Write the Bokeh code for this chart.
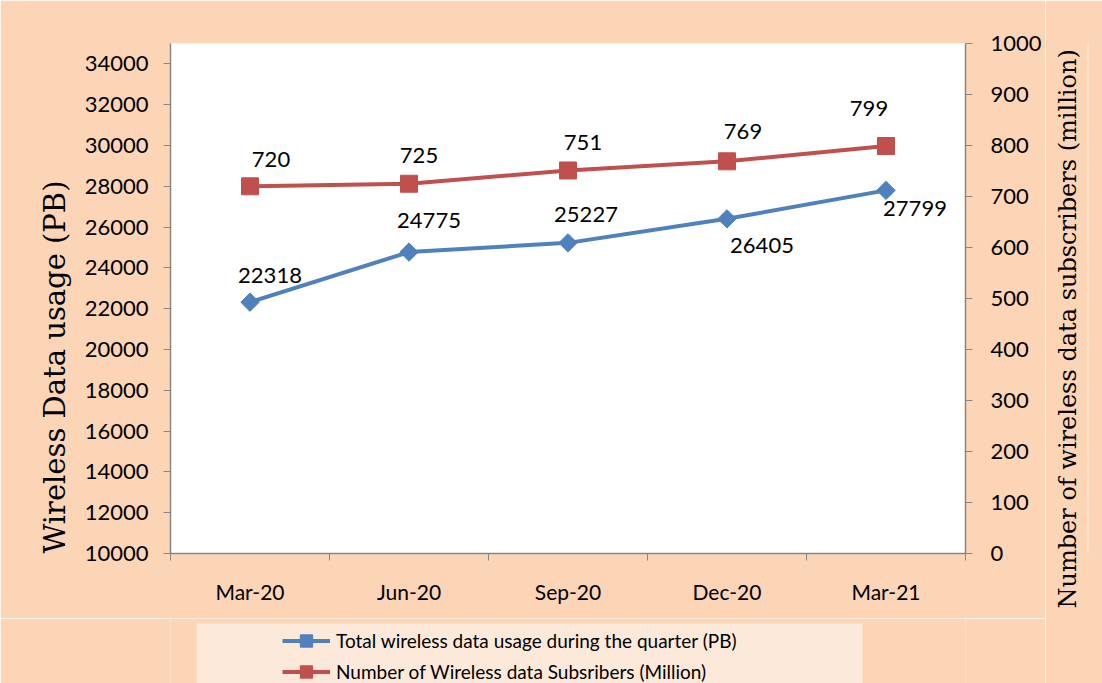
from bokeh.plotting import figure
from bokeh.layouts import column, row
from bokeh.models import (Range1d, LinearAxis, FixedTicker, SingleIntervalTicker,
                          NumeralTickFormatter, ColumnDataSource, Legend, LegendItem,
                          Title)
from bokeh.core.properties import value
from bokeh.embed import file_html
from bokeh.resources import INLINE
import numpy as np

# ---- data ----
categories = ["Mar-20", "Jun-20", "Sep-20", "Dec-20", "Mar-21"]
usage_pb = [22318, 24775, 25227, 26405, 27799]
subscribers_mn = [720, 725, 751, 769, 799]
usage_name = "Total wireless data usage during the quarter (PB)"
subs_name = "Number of Wireless data Subsribers (Million)"
left_title = "Wireless Data usage (PB)"
right_title = "Number of wireless data subscribers (million)"

# label offsets (styling, screen px)
usage_dx = [20, 20, 18, 35, 29]
usage_dy = [-27, -32, -28, 27, 18]
subs_dx = [21, 10, 15, 16, -17]
subs_dy = [-27, -28, -28, -30, -38]

BLUE = "#4F81BD"
RED = "#C0504D"
PEACH = "#FBD5B5"
LEGEND_BG = "#FDE9D9"
AXIS = "#868686"
FONT = "Lato"
SERIF = "DejaVu Serif"

W_MAIN = 1045
W_SIDE = 1102 - W_MAIN
H_TOTAL = 683
H_MAIN = 618
H_LEG = H_TOTAL - H_MAIN
B_LEFT, B_TOP, FRAME_BOTTOM = 170, 43, 553
B_RIGHT = W_MAIN - 965

xpos = [i + 0.5 for i in range(len(categories))]

p = figure(width=W_MAIN, height=H_MAIN, output_backend="svg", toolbar_location=None,
           x_range=Range1d(0, len(categories)), y_range=Range1d(10000, 35000),
           min_border_left=B_LEFT, min_border_right=B_RIGHT, min_border_top=B_TOP,
           min_border_bottom=H_MAIN - FRAME_BOTTOM)
p.border_fill_color = PEACH
p.background_fill_color = "white"
p.outline_line_color = None
p.xgrid.visible = False
p.ygrid.visible = False
p.extra_y_ranges = {"subs": Range1d(0, 1000)}

# x axis
xa = p.xaxis[0]
xa.ticker = FixedTicker(ticks=xpos, minor_ticks=list(range(len(categories) + 1)))
xa.major_label_overrides = {x: c for x, c in zip(xpos, categories)}
xa.major_tick_line_color = None
xa.major_tick_out = 0
xa.major_tick_in = 0
xa.minor_tick_out = 7
xa.minor_tick_in = 0
xa.minor_tick_line_color = AXIS
xa.axis_line_color = AXIS
xa.axis_line_width = 1.5
xa.major_label_standoff = 18
xa.major_label_text_font = FONT
xa.major_label_text_font_size = "21px"
xa.major_label_text_color = "black"

# left axis
ya = p.yaxis[0]
ya.ticker = SingleIntervalTicker(interval=2000)
ya.formatter = NumeralTickFormatter(format="0")
ya.minor_tick_line_color = None
ya.major_tick_out = 7
ya.major_tick_in = 0
ya.major_tick_line_color = AXIS
ya.axis_line_color = AXIS
ya.axis_line_width = 1.5
ya.major_label_standoff = 15
ya.major_label_text_font = FONT
ya.major_label_text_font_size = "22px"
ya.major_label_text_color = "black"

# right axis
ra = LinearAxis(y_range_name="subs", ticker=SingleIntervalTicker(interval=100))
ra.minor_tick_line_color = None
ra.major_tick_out = 7
ra.major_tick_in = 0
ra.major_tick_line_color = AXIS
ra.axis_line_color = AXIS
ra.axis_line_width = 1.5
ra.major_label_standoff = 18
ra.major_label_text_font = FONT
ra.major_label_text_font_size = "22px"
ra.major_label_text_color = "black"
p.add_layout(ra, "right")

# left title, starting at the bottom of the plot area
p.add_layout(Title(text=left_title, align="left", text_font=SERIF,
                   text_font_size="29px", text_font_style="normal",
                   text_color="black", standoff=19), "left")

# series
src_u = ColumnDataSource(dict(x=xpos, y=usage_pb, t=[str(v) for v in usage_pb],
                              dx=usage_dx, dy=usage_dy))
src_s = ColumnDataSource(dict(x=xpos, y=subscribers_mn, t=[str(v) for v in subscribers_mn],
                              dx=subs_dx, dy=subs_dy))

line_u = dict(line_color=BLUE, line_width=4)
mark_u = dict(marker="square", angle=np.pi / 4, size=13, fill_color=BLUE, line_color=BLUE)
line_s = dict(line_color=RED, line_width=4)
mark_s = dict(marker="square", size=17, fill_color=RED, line_color=RED)

p.line("x", "y", source=src_u, **line_u)
p.scatter("x", "y", source=src_u, **mark_u)
p.line("x", "y", source=src_s, y_range_name="subs", **line_s)
p.scatter("x", "y", source=src_s, y_range_name="subs", **mark_s)

p.text("x", "y", text="t", source=src_u, x_offset="dx", y_offset="dy",
       text_align="center", text_baseline="middle", text_font=value(FONT),
       text_font_size="22px", text_color="black")
p.text("x", "y", text="t", source=src_s, x_offset="dx", y_offset="dy",
       text_align="center", text_baseline="middle", text_font=value(FONT),
       text_font_size="22px", text_color="black", y_range_name="subs")

# ---- legend strip below the chart (same frame columns as the chart) ----
# its ranges are page pixels, so the series' own sources fall outside the view
lf = figure(width=W_MAIN, height=H_LEG, output_backend="svg", toolbar_location=None,
            x_axis_type=None, y_axis_type=None,
            x_range=Range1d(B_LEFT, W_MAIN - B_RIGHT), y_range=Range1d(H_LEG, 0),
            min_border_left=B_LEFT, min_border_right=B_RIGHT,
            min_border_top=0, min_border_bottom=0)
lf.border_fill_color = PEACH
lf.background_fill_color = PEACH
lf.outline_line_color = None
# lighter legend panel (page pixels: x 196..862, top 5 px into the strip)
lf.quad(left=[196], right=[862], top=[5], bottom=[H_LEG + 10],
        fill_color=LEGEND_BG, line_color=None)
g_lu = lf.line("x", "y", source=src_u, **line_u)
g_su = lf.scatter("x", "y", source=src_u, **mark_u)
g_ls = lf.line("x", "y", source=src_s, **line_s)
g_ss = lf.scatter("x", "y", source=src_s, **mark_s)

legend = Legend(items=[LegendItem(label=usage_name, renderers=[g_lu, g_su]),
                       LegendItem(label=subs_name, renderers=[g_ls, g_ss])],
                location=(282 - B_LEFT, -4), orientation="vertical",
                padding=5, spacing=0, glyph_width=48, glyph_height=31,
                label_standoff=6, label_text_font=FONT,
                label_text_font_size="19px", label_text_color="black",
                background_fill_alpha=0, border_line_color=None, margin=0)
lf.add_layout(legend, "center")

# ---- right strip carrying the secondary axis title (reads bottom to top) ----
rt = figure(width=W_SIDE, height=H_TOTAL, output_backend="svg", toolbar_location=None,
            x_axis_type=None, y_axis_type=None,
            min_border_left=42, min_border_right=W_SIDE - 43,
            min_border_top=B_TOP, min_border_bottom=H_TOTAL - FRAME_BOTTOM)
rt.border_fill_color = PEACH
rt.background_fill_color = PEACH
rt.outline_line_color = None
rt.add_layout(Title(text=right_title, align="left", offset=-55, text_font=SERIF,
                    text_font_size="24px", text_font_style="normal",
                    text_color="black", standoff=12), "left")

layout = row(column(p, lf, spacing=0), rt, spacing=0)
open("out.html", "w").write(file_html(layout, INLINE))
